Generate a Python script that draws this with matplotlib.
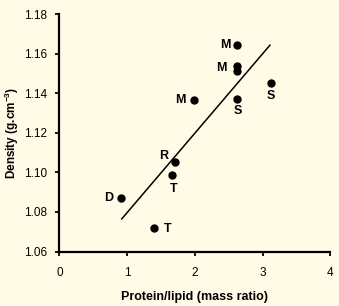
import matplotlib
matplotlib.use("Agg")
import matplotlib.pyplot as plt

plt.rcParams['font.family'] = ['Liberation Sans', 'DejaVu Sans']
plt.rcParams['mathtext.fontset'] = 'custom'
plt.rcParams['mathtext.rm'] = 'Liberation Sans'
plt.rcParams['mathtext.bf'] = 'Liberation Sans:bold'

# data
ratio = [0.91, 1.40, 1.66, 1.71, 1.99, 2.63, 2.63, 2.63, 2.63, 3.12]
density = [1.0872, 1.0720, 1.0985, 1.1050, 1.1366, 1.1643, 1.1537, 1.1514, 1.1369, 1.1450]
labels = ['D', 'T', 'T', 'R', 'M', 'M', 'M', '', 'S', 'S']
fit_x = [0.92, 3.11]
fit_y = [1.0765, 1.1643]
xticks = [0, 1, 2, 3, 4]
yticks = [1.06, 1.08, 1.10, 1.12, 1.14, 1.16, 1.18]

# label offsets in pixels (dx, dy)
offsets = [(-12, 0), (13, -1), (2, -14), (-12, 6), (-14, 0), (-12, 0), (-16, -2), (0, 0), (0, -12), (0, -13)]

bg = '#FFFBE6'
fig = plt.figure(figsize=(3.39, 3.06), dpi=100, facecolor=bg)
ax = fig.add_axes([0.1755, 0.178, 0.7985, 0.776])
ax.set_facecolor(bg)

ax.plot(fit_x, fit_y, color='black', lw=1.1, zorder=2)
ax.plot(ratio, density, 'o', color='black', ms=5, zorder=3)
for x, y, lab, off in zip(ratio, density, labels, offsets):
    if lab:
        ax.annotate(lab, (x, y), xytext=off, textcoords='offset pixels',
                    ha='center', va='center', fontsize=9, fontweight='bold')

ax.set_xlim(0, 4)
ax.set_ylim(1.06, 1.18)
ax.set_xticks(xticks)
ax.set_yticks(yticks)
ax.set_xticklabels([str(t) for t in xticks])
ax.set_yticklabels([f'{t:.2f}' for t in yticks])
for s in ['top', 'right']:
    ax.spines[s].set_visible(False)
for s in ['left', 'bottom']:
    ax.spines[s].set_linewidth(1.6)
ax.tick_params(axis='both', direction='out', length=3, width=1.3, labelsize=8.5, colors='black', pad=6)
ax.tick_params(axis='x', pad=8)

ax.set_xlabel('Protein/lipid (mass ratio)', fontsize=9, fontweight='bold', labelpad=9)
ax.set_ylabel(r'Density (g.cm$^{\mathbf{-3}}$)', fontsize=8.5, fontweight='bold', labelpad=2)

fig.savefig('out.png', dpi=100, facecolor=bg)
